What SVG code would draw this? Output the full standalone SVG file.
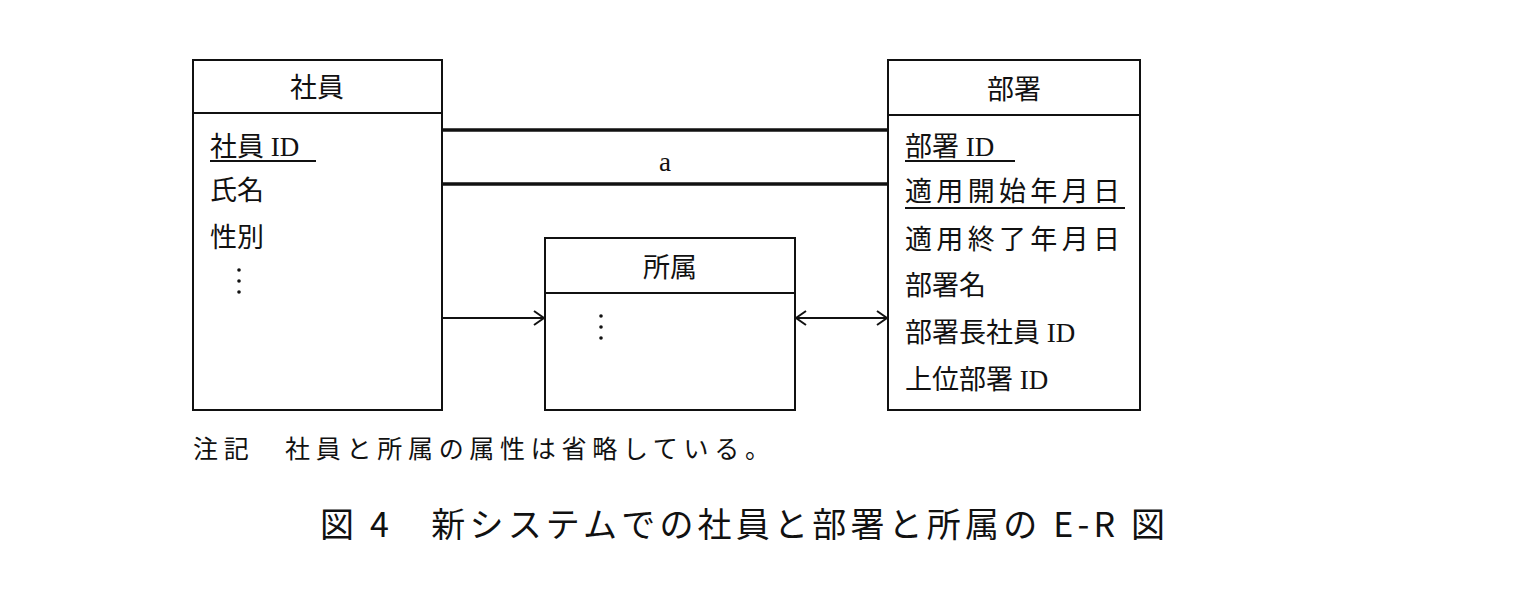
<svg xmlns="http://www.w3.org/2000/svg" width="1536" height="592" viewBox="0 0 1536 592">
<style>
.b{fill:#fff;stroke:#111;stroke-width:2}
.l{stroke:#111;stroke-width:2;fill:none}
.t{font-family:"Liberation Serif","Noto Sans CJK JP",serif;font-size:27px;fill:#111}
.n{font-family:"Noto Sans CJK JP",sans-serif;font-size:25px;fill:#111}
.c{font-family:"Noto Sans CJK JP",sans-serif;font-size:34px;fill:#111}
</style>
<defs>
<marker id="ar" viewBox="0 0 12 16" refX="11" refY="8" markerWidth="12" markerHeight="16" markerUnits="userSpaceOnUse" orient="auto-start-reverse"><path d="M1,1 L11,8 L1,15" fill="none" stroke="#111" stroke-width="2"/></marker>
</defs>
<rect width="1536" height="592" fill="#fff"/>
<g id="connectors">
<line x1="443" y1="130" x2="888" y2="130" stroke="#111" stroke-width="3.5"/>
<line x1="443" y1="184" x2="888" y2="184" stroke="#111" stroke-width="3.5"/>
<text class="t" x="665" y="171" text-anchor="middle">a</text>
<line class="l" x1="443" y1="318" x2="544" y2="318" marker-end="url(#ar)"/>
<line class="l" x1="796" y1="318" x2="887" y2="318" marker-start="url(#ar)" marker-end="url(#ar)"/>
</g>
<g id="shain">
<rect class="b" x="193" y="60" width="249" height="350"/>
<line class="l" x1="193" y1="113" x2="442" y2="113"/>
<text class="t" x="317" y="97" text-anchor="middle">社員</text>
<text class="t" x="210" y="156">社員 ID</text>
<line class="l" x1="210" y1="161" x2="316" y2="161"/>
<text class="t" x="210" y="200">氏名</text>
<text class="t" x="210" y="247">性別</text>
<g fill="#111"><circle cx="239" cy="270" r="1.8"/><circle cx="239" cy="281" r="1.8"/><circle cx="239" cy="292" r="1.8"/></g>
</g>
<g id="shozoku">
<rect class="b" x="545" y="238" width="250" height="172"/>
<line class="l" x1="545" y1="293" x2="795" y2="293"/>
<text class="t" x="670" y="277" text-anchor="middle">所属</text>
<g fill="#111"><circle cx="601" cy="316" r="1.8"/><circle cx="601" cy="327" r="1.8"/><circle cx="601" cy="338" r="1.8"/></g>
</g>
<g id="busho">
<rect class="b" x="888" y="60" width="252" height="350"/>
<line class="l" x1="888" y1="115" x2="1140" y2="115"/>
<text class="t" x="1014" y="99" text-anchor="middle">部署</text>
<text class="t" x="905" y="156">部署 ID</text>
<line class="l" x1="905" y1="161" x2="1015" y2="161"/>
<text class="t" x="905" y="201" textLength="215">適用開始年月日</text>
<line class="l" x1="905" y1="208" x2="1125" y2="208"/>
<text class="t" x="905" y="249" textLength="215">適用終了年月日</text>
<text class="t" x="905" y="295">部署名</text>
<text class="t" x="905" y="342">部署長社員 ID</text>
<text class="t" x="905" y="389">上位部署 ID</text>
</g>
<text class="n" x="193" y="458" textLength="577">注記　社員と所属の属性は省略している。</text>
<text class="c" x="320" y="537" textLength="845">図 4　新システムでの社員と部署と所属の E-R 図</text>
</svg>
